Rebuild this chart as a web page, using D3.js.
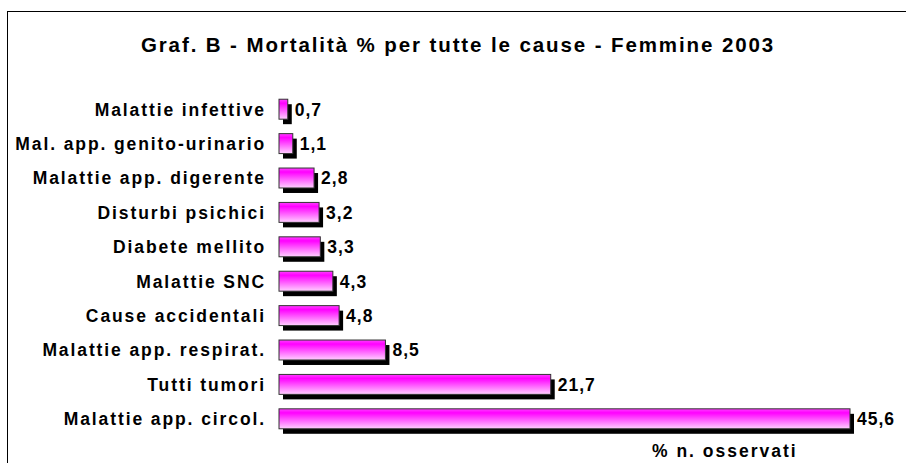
<!DOCTYPE html>
<html><head><meta charset="utf-8">
<script src="https://cdn.jsdelivr.net/npm/d3@7"></script>
<style>body{margin:0;background:#fff}svg{display:block}</style>
</head><body>
<svg id="c" width="906" height="463"></svg>
<script>
const categories = ["Malattie infettive","Mal. app. genito-urinario","Malattie app. digerente","Disturbi psichici","Diabete mellito","Malattie SNC","Cause accidentali","Malattie app. respirat.","Tutti tumori","Malattie app. circol."];
const values = [0.7,1.1,2.8,3.2,3.3,4.3,4.8,8.5,21.7,45.6];
const valueLabels = ["0,7","1,1","2,8","3,2","3,3","4,3","4,8","8,5","21,7","45,6"];
const title = "Graf. B - Mortalità % per tutte le cause - Femmine 2003";
const xTitle = "% n. osservati";

const svg = d3.select("#c");
const font = "'Liberation Sans', Arial, sans-serif";
const defs = svg.append("defs");
const g = defs.append("linearGradient").attr("id","grad").attr("x1",0).attr("y1",0).attr("x2",0).attr("y2",1);
g.append("stop").attr("offset","0%").attr("stop-color","#ff40ff");
g.append("stop").attr("offset","20%").attr("stop-color","#ff00ff");
g.append("stop").attr("offset","100%").attr("stop-color","#ffd0ff");

svg.append("rect").attr("x",7.5).attr("y",11.5).attr("width",920).attr("height",480)
  .attr("fill","none").attr("stroke","#000").attr("stroke-width",1);

svg.append("text").attr("x",458).attr("y",52).attr("text-anchor","middle")
  .attr("font-family",font).attr("font-weight","bold").attr("font-size",20.5)
  .attr("letter-spacing",1.9).text(title);

const x = d3.scaleLinear().domain([0,45.6]).range([279,850]);
const y = d3.scaleBand().domain(categories).range([92,436]).paddingInner(0.42).paddingOuter(0.21);

const sh = 4;
svg.append("g").selectAll("rect").data(values).join("rect")
  .attr("x",(d)=>x(0)+sh).attr("y",(d,i)=>y(categories[i])+sh+1)
  .attr("width",d=>x(d)-x(0)).attr("height",y.bandwidth()).attr("fill","#000");
svg.append("g").selectAll("rect").data(values).join("rect")
  .attr("x",x(0)).attr("y",(d,i)=>y(categories[i]))
  .attr("width",d=>x(d)-x(0)).attr("height",y.bandwidth())
  .attr("fill","url(#grad)").attr("stroke","#333").attr("stroke-width",1);

svg.append("g").selectAll("text").data(categories).join("text")
  .attr("x",266).attr("y",d=>y(d)+y.bandwidth()/2).attr("dy","0.36em").attr("text-anchor","end")
  .attr("font-family",font).attr("font-weight","bold").attr("font-size",17.5)
  .attr("letter-spacing",1.9).text(d=>d);

svg.append("g").selectAll("text").data(values).join("text")
  .attr("x",d=>x(d)+sh+3).attr("y",(d,i)=>y(categories[i])+y.bandwidth()/2).attr("dy","0.36em")
  .attr("font-family",font).attr("font-weight","bold").attr("font-size",17.5)
  .attr("letter-spacing",1.0).text((d,i)=>valueLabels[i]);

svg.append("text").attr("x",652).attr("y",457)
  .attr("font-family",font).attr("font-weight","bold").attr("font-size",17.5)
  .attr("letter-spacing",2.0).text(xTitle);
</script>
</body></html>
